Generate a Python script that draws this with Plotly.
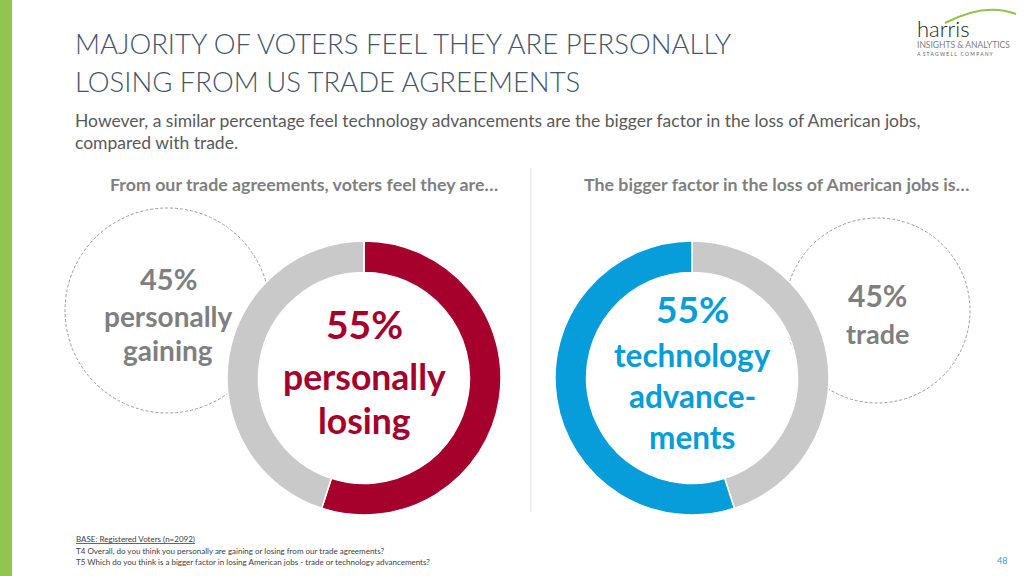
import plotly.graph_objects as go

W, H = 1024, 576

# ---- data ----
left_labels = ["personally losing", "personally gaining"]
left_values = [55, 45]
right_labels = ["trade", "technology advancements"]
right_values = [45, 55]

title_lines = ["MAJORITY OF VOTERS FEEL THEY ARE PERSONALLY",
               "LOSING FROM US TRADE AGREEMENTS"]
subtitle_lines = ["However, a similar percentage feel technology advancements are the bigger factor in the loss of American jobs,",
                  "compared with trade."]
left_header = "From our trade agreements, voters feel they are…"
right_header = "The bigger factor in the loss of American jobs is…"
footnotes = ["<u>BASE: Registered Voters (n=2092)</u>",
             "T4 Overall, do you think you personally are gaining or losing from our trade agreements?",
             "T5 Which do you think is a bigger factor in losing American jobs - trade or technology advancements?"]
page_no = "48"

RED = "#A6002C"
BLUE = "#069DDA"
GRAY = "#C9C9C9"
TXTGRAY = "#7F7F7F"
FONT = "Lato"


def X(px):
    return px / W


def Y(py):
    return 1 - py / H


fig = go.Figure()

fig.add_trace(go.Pie(
    labels=left_labels, values=left_values, hole=0.77, sort=False,
    direction="clockwise", rotation=0,
    marker=dict(colors=[RED, GRAY], line=dict(color="white", width=1.5)),
    textinfo="none", hoverinfo="label+percent", showlegend=False,
    domain=dict(x=[X(227), X(501)], y=[Y(515), Y(241)])))

fig.add_trace(go.Pie(
    labels=right_labels, values=right_values, hole=0.77, sort=False,
    direction="clockwise", rotation=0,
    marker=dict(colors=[GRAY, BLUE], line=dict(color="white", width=1.5)),
    textinfo="none", hoverinfo="label+percent", showlegend=False,
    domain=dict(x=[X(555), X(829)], y=[Y(515), Y(241)])))

shapes = []
# left green bar
shapes.append(dict(type="rect", xref="paper", yref="paper", x0=0, x1=X(12), y0=0, y1=1,
                   fillcolor="#92C550", line=dict(width=0), layer="below"))
# divider
shapes.append(dict(type="line", xref="paper", yref="paper", x0=X(531), x1=X(531), y0=Y(168), y1=Y(512),
                   line=dict(color="#E3E3E3", width=1), layer="below"))
# dashed circles
shapes.append(dict(type="circle", xref="paper", yref="paper", x0=X(65), x1=X(270), y0=Y(413), y1=Y(208),
                   line=dict(color="#9A9A9A", width=1, dash="3px,2px"), layer="below"))
shapes.append(dict(type="circle", xref="paper", yref="paper", x0=X(785), x1=X(970), y0=Y(403), y1=Y(218),
                   line=dict(color="#9A9A9A", width=1, dash="3px,2px"), layer="below"))
# logo arc
shapes.append(dict(type="path", xref="paper", yref="paper",
                   path=f"M {X(945)} {Y(23)} Q {X(985)} {Y(2)} {X(1016)} {Y(14)}",
                   line=dict(color="#8DC63F", width=2)))

ann = []


def txt(text, x, y, size, color, xanchor="center", weight="normal", yanchor="middle"):
    ann.append(dict(text=text, x=X(x), y=Y(y), xref="paper", yref="paper", showarrow=False,
                    xanchor=xanchor, yanchor=yanchor,
                    font=dict(family=FONT, size=size, color=color, weight=weight)))


txt(title_lines[0], 73, 43, 27.5, "#44546A", xanchor="left", weight=300)
txt(title_lines[1], 73, 81, 27.5, "#44546A", xanchor="left", weight=300)
txt(subtitle_lines[0], 73, 120, 17.5, "#595959", xanchor="left")
txt(subtitle_lines[1], 73, 143, 17.5, "#595959", xanchor="left")
txt(left_header, 304, 184, 17.8, TXTGRAY, weight="bold")
txt(right_header, 776, 184, 17.8, TXTGRAY, weight="bold")

# left side labels
txt(f"{left_values[1]}%", 168, 278, 29, TXTGRAY, weight="bold")
txt("personally", 168, 316, 28, TXTGRAY, weight="bold")
txt("gaining", 168, 350, 28, TXTGRAY, weight="bold")
txt(f"{left_values[0]}%", 364, 324, 39, RED, weight="bold")
txt("personally", 364, 376, 35.5, RED, weight="bold")
txt("losing", 364, 420, 35.5, RED, weight="bold")

# right side labels
txt(f"{right_values[1]}%", 692, 308, 37, BLUE, weight="bold")
txt("technology", 692, 355, 31.5, BLUE, weight="bold")
txt("advance-", 692, 396, 31.5, BLUE, weight="bold")
txt("ments", 692, 437, 31.5, BLUE, weight="bold")
txt(f"{right_values[0]}%", 877, 295, 30, TXTGRAY, weight="bold")
txt("trade", 877, 333, 27, TXTGRAY, weight="bold")

# footnotes
for i, f in enumerate(footnotes):
    txt(f, 74, 539 + i * 11.5, 8, "#404040", xanchor="left")
txt(page_no, 1002, 560, 9, "#3A9BD0")

# logo
txt("harris", 915, 28, 22, "#231F20", xanchor="left", weight=300)
txt("INSIGHTS &amp; ANALYTICS", 915, 45, 8.5, "#808080", xanchor="left")
txt("A  S T A G W E L L   C O M P A N Y", 915, 54, 5, "#606060", xanchor="left")

fig.update_layout(width=W, height=H, margin=dict(l=0, r=0, t=0, b=0),
                  paper_bgcolor="white", plot_bgcolor="white",
                  shapes=shapes, annotations=ann)

fig.write_html("out.html", config={"displayModeBar": False},
               post_script="document.body.style.margin='0';document.body.style.overflow='hidden';")
